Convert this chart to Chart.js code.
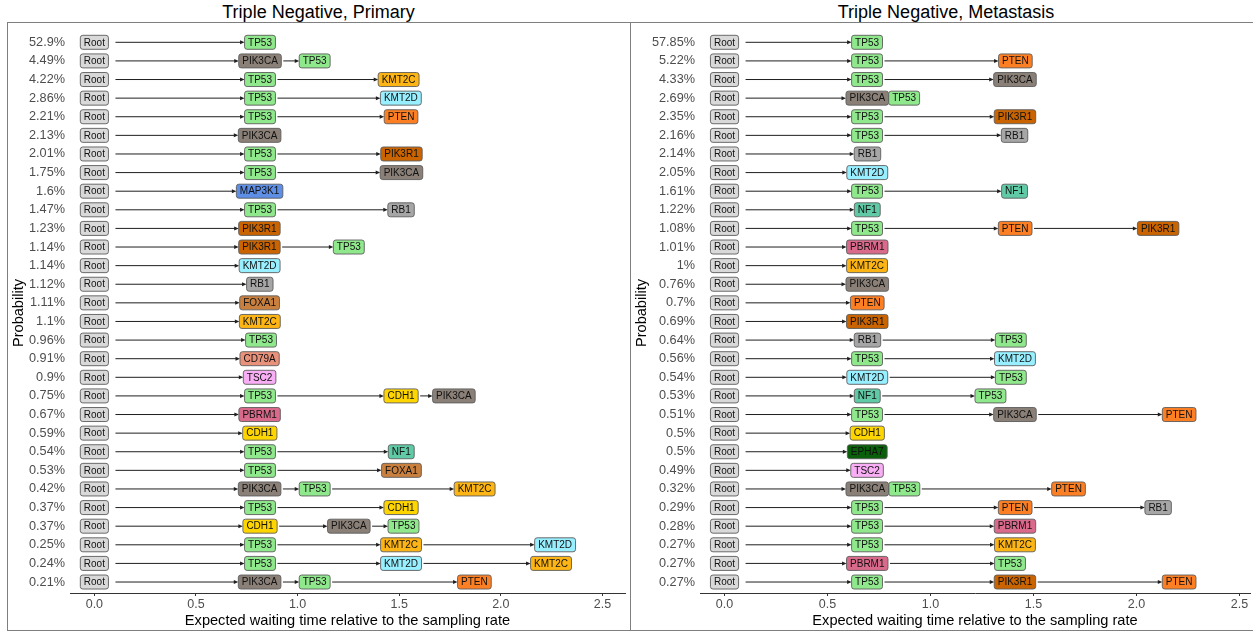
<!DOCTYPE html>
<html><head><meta charset="utf-8">
<script src="https://cdn.jsdelivr.net/npm/chart.js@4.4.1/dist/chart.umd.min.js"></script>
<style>
body{margin:0;width:1253px;height:631px;background:#fff;overflow:hidden;font-family:"Liberation Sans",Arial,sans-serif;position:relative;}
.panel{position:absolute;top:22px;height:609px;box-sizing:border-box;border:1px solid #7f7f7f;}
.title{position:absolute;top:0;height:22px;line-height:24px;text-align:center;font-size:18px;color:#000;white-space:nowrap;}
canvas{position:absolute;}
</style></head>
<body>
<div class="title" style="left:7px;width:623px">Triple Negative, Primary</div>
<div class="title" style="left:630px;width:632px">Triple Negative, Metastasis</div>
<div class="panel" style="left:7px;width:624px"></div>
<div class="panel" style="left:630px;width:640px"></div>
<canvas id="c1" width="622" height="607" style="left:8px;top:23px"></canvas>
<canvas id="c2" width="622" height="607" style="left:631px;top:23px"></canvas>
<script>
// ---------- data ----------
const xTicks = [0, 0.5, 1, 1.5, 2, 2.5];

const primaryProb = [52.9,4.49,4.22,2.86,2.21,2.13,2.01,1.75,1.6,1.47,1.23,1.14,1.14,1.12,1.11,1.1,0.96,0.91,0.9,0.75,0.67,0.59,0.54,0.53,0.42,0.37,0.37,0.25,0.24,0.21];
const primaryGenes = [
  ["TP53"],["PIK3CA","TP53"],["TP53","KMT2C"],["TP53","KMT2D"],["TP53","PTEN"],
  ["PIK3CA"],["TP53","PIK3R1"],["TP53","PIK3CA"],["MAP3K1"],["TP53","RB1"],
  ["PIK3R1"],["PIK3R1","TP53"],["KMT2D"],["RB1"],["FOXA1"],
  ["KMT2C"],["TP53"],["CD79A"],["TSC2"],["TP53","CDH1","PIK3CA"],
  ["PBRM1"],["CDH1"],["TP53","NF1"],["TP53","FOXA1"],["PIK3CA","TP53","KMT2C"],
  ["TP53","CDH1"],["CDH1","PIK3CA","TP53"],["TP53","KMT2C","KMT2D"],["TP53","KMT2D","KMT2C"],["PIK3CA","TP53","PTEN"]
];
const primaryTimes = [
  [0.815],[0.815,1.084],[0.815,1.497],[0.815,1.508],[0.815,1.509],
  [0.813],[0.815,1.511],[0.815,1.511],[0.813],[0.815,1.509],
  [0.812],[0.812,1.252],[0.813],[0.814],[0.813],
  [0.814],[0.82],[0.813],[0.813],[0.815,1.509,1.769],
  [0.813],[0.814],[0.815,1.51],[0.815,1.511],[0.813,1.084,1.871],
  [0.815,1.509],[0.815,1.252,1.521],[0.815,1.509,2.267],[0.815,1.509,2.247],[0.813,1.084,1.870]
];

const metProb = [57.85,5.22,4.33,2.69,2.35,2.16,2.14,2.05,1.61,1.22,1.08,1.01,1,0.76,0.7,0.69,0.64,0.56,0.54,0.53,0.51,0.5,0.5,0.49,0.32,0.29,0.28,0.27,0.27,0.27];
const metGenes = [
  ["TP53"],["TP53","PTEN"],["TP53","PIK3CA"],["PIK3CA","TP53"],["TP53","PIK3R1"],
  ["TP53","RB1"],["RB1"],["KMT2D"],["TP53","NF1"],["NF1"],
  ["TP53","PTEN","PIK3R1"],["PBRM1"],["KMT2C"],["PIK3CA"],["PTEN"],
  ["PIK3R1"],["RB1","TP53"],["TP53","KMT2D"],["KMT2D","TP53"],["NF1","TP53"],
  ["TP53","PIK3CA","PTEN"],["CDH1"],["EPHA7"],["TSC2"],["PIK3CA","TP53","PTEN"],
  ["TP53","PTEN","RB1"],["TP53","PBRM1"],["TP53","KMT2C"],["PBRM1","TP53"],["TP53","PIK3R1","PTEN"]
];
const metTimes = [
  [0.692],[0.692,1.412],[0.692,1.41],[0.693,0.872],[0.692,1.41],
  [0.692,1.408],[0.694],[0.693],[0.692,1.408],[0.693],
  [0.692,1.411,2.105],[0.693],[0.692],[0.693],[0.693],
  [0.693],[0.694,1.39],[0.692,1.41],[0.693,1.39],[0.693,1.291],
  [0.692,1.41,2.207],[0.693],[0.693],[0.692],[0.693,0.873,1.67],
  [0.692,1.411,2.105],[0.692,1.41],[0.692,1.41],[0.693,1.386],[0.692,1.41,2.207]
];

// ---------- styles ----------
const geneColors = {
  Root:"#d9d9d9", TP53:"#8fe88b", PIK3CA:"#8a8078", KMT2C:"#fdb515", KMT2D:"#98efff",
  PTEN:"#fd7f24", PIK3R1:"#c96400", MAP3K1:"#5e8fe6", RB1:"#a6a6a6", FOXA1:"#c9803f",
  CD79A:"#e8917b", TSC2:"#f8aef4", PBRM1:"#d96a8c", CDH1:"#ffd500", NF1:"#60caa6", EPHA7:"#0a5f0a"
};
Chart.defaults.font.family = '"Liberation Sans", Arial, sans-serif';

const FONT = '10px "Liberation Sans", Arial, sans-serif';

function drawArrow(ctx, x0, x1, y){
  ctx.strokeStyle = '#1f1f1f'; ctx.fillStyle = '#1f1f1f'; ctx.lineWidth = 1;
  if (x1 - x0 > 4){
    ctx.beginPath(); ctx.moveTo(x0, y); ctx.lineTo(x1 - 3, y); ctx.stroke();
  }
  ctx.beginPath(); ctx.moveTo(x1, y); ctx.lineTo(x1 - 4.5, y - 2); ctx.lineTo(x1 - 4.5, y + 2); ctx.closePath(); ctx.fill();
}
function drawBox(ctx, n){
  const h = 14;
  ctx.beginPath();
  ctx.roundRect(n.cx - n.w/2, n.cy - h/2, n.w, h, 2.5);
  ctx.fillStyle = geneColors[n.label] || '#ccc';
  ctx.fill();
  ctx.lineWidth = 0.9; ctx.strokeStyle = '#5c5c5c'; ctx.stroke();
  ctx.fillStyle = '#111'; ctx.textAlign = 'center'; ctx.textBaseline = 'middle';
  ctx.fillText(n.label, n.cx, n.cy + 0.5);
}
const pathPlugin = {
  id: 'paths',
  afterDatasetsDraw(chart){
    const ctx = chart.ctx;
    const meta = chart.getDatasetMeta(0);
    const raw = chart.data.datasets[0].data;
    ctx.save();
    ctx.font = FONT;
    const rows = {};
    raw.forEach((d, k) => { (rows[d.y] = rows[d.y] || []).push({ d, el: meta.data[k] }); });
    Object.values(rows).forEach(list => {
      const nodes = list.map(({ d, el }) => ({ label: d.label, cx: el.x, cy: el.y, w: ctx.measureText(d.label).width + 7 }));
      for (let i = 1; i < nodes.length; i++){
        const a = nodes[i-1], b = nodes[i];
        const x0 = a.cx + a.w/2 + (i === 1 ? 7 : 2);
        const x1 = b.cx - b.w/2;
        drawArrow(ctx, x0, x1, b.cy);
      }
      nodes.forEach(n => drawBox(ctx, n));
    });
    ctx.restore();
  }
};

function makePanel(id, probs, genes, times, xMin, xMax, yW, padRight){
  const pts = [];
  genes.forEach((row, i) => {
    pts.push({ x: 0, y: i, label: 'Root' });
    row.forEach((g, j) => pts.push({ x: times[i][j], y: i, label: g }));
  });
  return new Chart(document.getElementById(id), {
    type: 'scatter',
    data: { datasets: [{ data: pts, pointRadius: 0, pointHoverRadius: 0, showLine: false }] },
    options: {
      responsive: false, animation: false, events: [],
      layout: { padding: { top: 10, right: padRight, bottom: 0, left: 0 } },
      plugins: { legend: { display: false }, tooltip: { enabled: false } },
      scales: {
        x: {
          type: 'linear', min: xMin, max: xMax,
          afterBuildTicks: s => { s.ticks = xTicks.map(v => ({ value: v })); },
          afterFit: s => { s.height = 37; s.paddingLeft = 0; s.paddingRight = 0; },
          grid: { display: true, drawOnChartArea: false, drawTicks: true, tickLength: 3, color: '#333' },
          border: { display: true, color: '#333', width: 1 },
          ticks: { callback: v => Number(v).toFixed(1), color: '#4d4d4d', font: { size: 12.5 }, padding: 1, maxRotation: 0, autoSkip: false },
          title: { display: true, text: 'Expected waiting time relative to the sampling rate', color: '#000', font: { size: 14.6 }, padding: { top: 0, bottom: 0 } }
        },
        y: {
          type: 'linear', reverse: true, min: -0.5, max: 29.59,
          afterBuildTicks: s => { s.ticks = probs.map((_, i) => ({ value: i })); },
          afterFit: s => { s.width = yW; s.paddingTop = 0; s.paddingBottom = 0; },
          grid: { display: false, drawTicks: false },
          border: { display: false },
          ticks: { callback: (v, i) => probs[i] + '%', color: '#4d4d4d', font: { size: 12.7 }, padding: 5, autoSkip: false },
          title: { display: true, text: 'Probability', color: '#000', font: { size: 14.6 }, padding: { top: 2, bottom: 0 } }
        }
      }
    },
    plugins: [pathPlugin]
  });
}

makePanel('c1', primaryProb, primaryGenes, primaryTimes, -0.120, 2.611, 62, 5);
makePanel('c2', metProb, metGenes, metTimes, -0.119, 2.551, 69, 3);
</script>
</body></html>
